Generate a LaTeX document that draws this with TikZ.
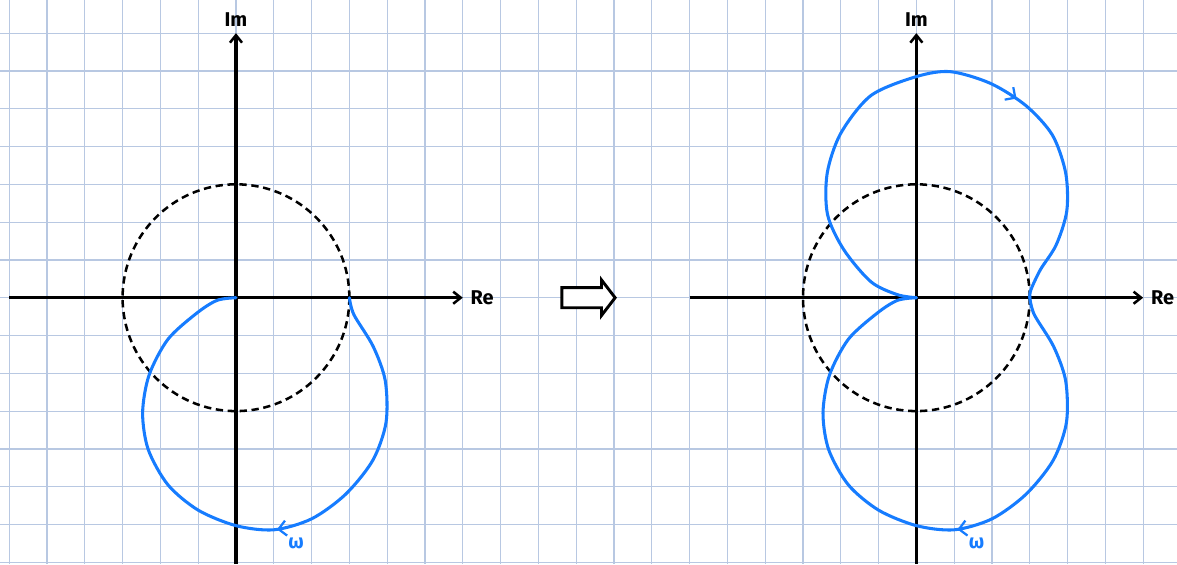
\documentclass[tikz,border=0pt]{standalone}
\usepackage{fontspec}
\setsansfont{Fira Sans}
\usetikzlibrary{arrows.meta,decorations.markings}
\definecolor{gridblue}{RGB}{184,200,226}
\definecolor{nyqblue}{RGB}{22,124,255}

\begin{document}
\begin{tikzpicture}[x=1cm, y=1cm,
    gridline/.style={gridblue, line width=0.9pt},
    axis/.style={line width=2.4pt, -{Straight Barb[length=2mm, width=3.2mm, line width=1.9pt]}},
    unitcircle/.style={line width=1.9pt, dash pattern=on 5.5pt off 3.5pt},
    nyq/.style={nyqblue, line width=2.3pt, line join=round, line cap=round},
    lbl/.style={font=\sffamily\bfseries\fontsize{15}{18}\selectfont, inner sep=0pt}]
  \useasboundingbox (-6.243,-7.045) rectangle (24.895,7.876);
  % paper grid
  \foreach \x in {-6,...,24} \draw[gridline] (\x,-7.045) -- (\x,7.876);
  \foreach \y in {-7,...,7} \draw[gridline] (-6.243,\y) -- (24.895,\y);
  % two planes: unit circle, axes, lower loop
  \foreach \ox in {0,18} {
    \begin{scope}[xshift=\ox cm]
      \draw[unitcircle] (0,0) circle (3);
      \draw[axis] (-6,0) -- (6,0);
      \draw[axis] (0,-7.045) -- (0,7);
      \node[lbl, anchor=west] (re\ox) at (6.2,0) {Re};
      \node[lbl] (im\ox) at (0,7.36) {Im};
      \draw[nyq, postaction={decorate}, decoration={markings,
          mark=at position 0.45 with {\arrow{Straight Barb[length=2mm, width=4mm, line width=1.7pt]}}}]
        plot[smooth] coordinates {(3,0) (3.12,-0.45) (3.63,-1.29) (3.95,-2.2) (3.97,-3.3) (3.62,-4.3)
          (2.9,-5.2) (2.0,-5.85) (1.0,-6.14) (0,-6.03) (-1.0,-5.62) (-1.8,-4.95) (-2.32,-4.02)
          (-2.47,-3.05) (-2.3,-2.05) (-1.8,-1.1) (-1.04,-0.41) (-0.5,-0.07) (0,0)};
      \node[lbl, nyqblue] (w\ox) at (1.59,-6.5) {ω};
    \end{scope}
  }
  % mirrored upper loop
  \begin{scope}[xshift=18cm]
    \draw[nyq, postaction={decorate}, decoration={markings,
        mark=at position 0.65 with {\arrow{Straight Barb[length=2mm, width=4mm, line width=1.7pt]}}}]
      plot[smooth] coordinates {(0,0) (-0.5,0.08) (-1.2,0.42) (-1.92,1.27) (-2.35,2.2) (-2.36,3.29)
        (-2.0,4.35) (-1.2,5.35) (0,5.85) (0.9,5.98) (1.96,5.67) (2.9,5.08) (3.6,4.3) (3.95,3.3)
        (3.98,2.3) (3.7,1.4) (3.28,0.74) (3.03,0.21) (3,0)};
  \end{scope}
  % hollow implication arrow
  \draw[line width=2.2pt, line join=miter, fill=white]
    (8.62,0.265) -- (9.67,0.265) -- (9.67,0.47) -- (10.03,0) -- (9.67,-0.47)
    -- (9.67,-0.265) -- (8.62,-0.265) -- cycle;
\end{tikzpicture}
\end{document}
